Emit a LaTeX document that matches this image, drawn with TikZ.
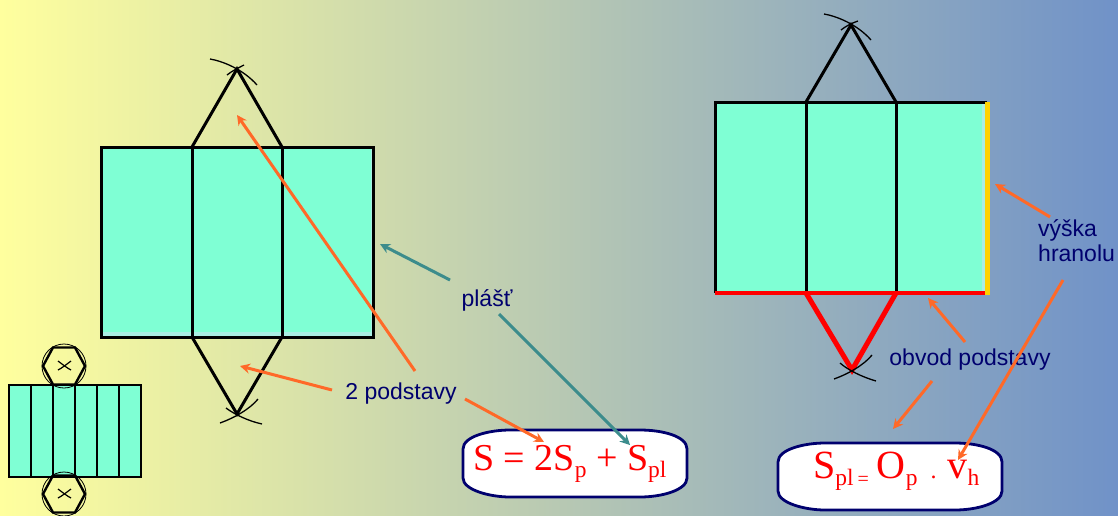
\documentclass[tikz,border=0pt]{standalone}
\usepackage{fontspec}
\setmainfont{Liberation Sans}
\newfontfamily\formfont{Liberation Serif}
\usetikzlibrary{arrows.meta}
\definecolor{navytxt}{RGB}{0,0,110}
\definecolor{aqua}{RGB}{127,255,212}
\definecolor{aqualt}{RGB}{170,238,228}
\definecolor{orarrow}{RGB}{255,105,40}
\definecolor{tealarrow}{RGB}{60,140,140}
\definecolor{bgA}{RGB}{255,255,158}
\definecolor{bgB}{RGB}{190,205,182}
\definecolor{bgC}{RGB}{112,146,200}
\definecolor{goldedge}{RGB}{255,210,0}
\tikzset{
 x=1pt,y=-1pt,
 fold/.style={draw=black,line width=3pt,line join=miter},
 thin fold/.style={draw=black,line width=2.2pt},
 arcline/.style={draw=black,line width=1.3pt},
 small arc/.style={draw=black,line width=.8pt},
 oarrow/.style={draw=orarrow,line width=3pt,-{Stealth[length=10pt,width=10pt]}},
 tarrow/.style={draw=tealarrow,line width=3pt,-{Stealth[length=10pt,width=10pt]}},
 lab/.style={text=navytxt,font=\fontsize{23}{25.5}\selectfont,inner sep=0pt},
 formula/.style={text=red,font=\formfont\fontsize{38}{42}\selectfont,inner sep=0pt,anchor=base west},
 formula big/.style={formula,font=\formfont\fontsize{40}{44}\selectfont},
 formbox/.style={draw=navytxt,fill=white,line width=2.8pt},
}
\newcommand{\subtxt}[1]{{\fontsize{23.5}{26}\selectfont\raisebox{-7pt}{#1}}}
\begin{document}
\begin{tikzpicture}
\useasboundingbox (0,0) rectangle (1118,515);
\shade[left color=bgA,middle color=bgB,right color=bgC,shading angle=90] (0,0) rectangle (1118,515);

% left net
\fill[aqualt] (101,147) rectangle (373,337);
\fill[aqua] (101,147) rectangle (371,332);
\draw[fold] (101,147) rectangle (373,337);
\draw[fold] (192,147) -- (192,337) (282,147) -- (282,337);
\draw[fold] (192,147) -- (237,69) -- (282,147);
\draw[fold] (192,337) -- (237,414) -- (282,337);
\draw[arcline] (210,59) .. controls (222,61) and (243,69) .. (257,85);
\draw[arcline] (227,75) .. controls (232,71) and (238,68) .. (244,65);
\draw[arcline] (220,423) .. controls (234,418) and (250,409) .. (258,399);
\draw[arcline] (226,408) .. controls (234,414) and (248,421) .. (262,424);

% right net
\fill[aqualt] (715,102) rectangle (987,293);
\fill[aqua] (715,102) rectangle (982,293);
\draw[fold] (715,293) -- (715,102) -- (987,102);
\draw[fold] (806,102) -- (806,293) (896,102) -- (896,293);
\draw[fold] (806,102) -- (851,25) -- (896,102);
\draw[arcline] (824,14) .. controls (836,16) and (857,24) .. (871,40);
\draw[arcline] (841,30) .. controls (846,26) and (852,23) .. (858,21);
\draw[draw=red,line width=4pt] (715,293) -- (987,293);
\draw[draw=red,line width=5pt,line join=miter] (806,293) -- (852,370) -- (896,293);
\draw[arcline] (834,379) .. controls (848,374) and (864,365) .. (872,355);
\draw[arcline] (840,363) .. controls (848,370) and (862,377) .. (876,381);
\draw[draw=goldedge,line width=5pt] (987,102) -- (987,295);

% small net
\fill[aqua] (9,385) rectangle (141,477);
\draw[thin fold] (9,385) rectangle (141,477);
\foreach \vx in {31,53,75,97,119} \draw[thin fold] (\vx,385) -- (\vx,477);
\foreach \hy in {366,494} {
 \draw[small arc] (64,\hy) circle (22);
 \draw[thin fold,line width=2.4pt] (43,\hy) -- (53,\hy-18.5) -- (75,\hy-18.5) -- (85,\hy) -- (75,\hy+18.5) -- (53,\hy+18.5) -- cycle;
 \draw[small arc,line width=1.2pt] (58,\hy-5) .. controls (62,\hy-2) and (67,\hy+2) .. (71,\hy+4);
 \draw[small arc,line width=1.2pt] (58,\hy+4) .. controls (62,\hy+2) and (67,\hy-2) .. (71,\hy-5);
}

% labels
\node[lab] (twobase) at (401,393.5) {2 podstavy};
\node[lab] (mantle) at (487,300) {plášť};
\node[lab] (perim) at (970,360) {obvod podstavy};
\node[lab,align=left,anchor=north west] (height) at (1038,219) {výška\\hranolu};

% formula boxes
\draw[formbox] (463,449) .. controls (463,436) and (490,430) .. (510,430) -- (640,430)
 .. controls (662,430) and (687,436) .. (687,449) -- (687,478)
 .. controls (687,490) and (662,497) .. (640,497) -- (510,497)
 .. controls (490,497) and (463,490) .. (463,478) -- cycle;
\draw[formbox] (778,462) .. controls (778,449) and (805,443) .. (825,443) -- (955,443)
 .. controls (977,443) and (1002,449) .. (1002,462) -- (1002,491)
 .. controls (1002,503) and (977,510) .. (955,510) -- (825,510)
 .. controls (805,510) and (778,503) .. (778,491) -- cycle;
\node[formula] (sform) at (473,470) {S = 2S\subtxt{p} + S\subtxt{pl}};
\node[formula big] (splform) at (813,478) {S\subtxt{pl\,{\fontsize{20}{24}\selectfont =}}\hspace{8pt}O\subtxt{p}\hspace{13pt}{\fontsize{24}{28}\selectfont .}\hspace{11pt}v\subtxt{h}};

% arrow ends
\coordinate (a1s) at (415,371); \coordinate (a1e) at (237,115);
\coordinate (a2s) at (332,390); \coordinate (a2e) at (240,366);
\coordinate (a3s) at (465,399); \coordinate (a3e) at (544,442);
\coordinate (t1s) at (450,280); \coordinate (t1e) at (380,244);
\coordinate (t2s) at (499,314); \coordinate (t2e) at (630,445);
\coordinate (b1s) at (1050,217); \coordinate (b1e) at (995,184);
\coordinate (b2s) at (1063,280); \coordinate (b2e) at (958,460);
\coordinate (b3s) at (965,342); \coordinate (b3e) at (928,298);
\coordinate (b4s) at (932,381); \coordinate (b4e) at (893,429);
\draw[oarrow] (a1s) -- (a1e);
\draw[oarrow] (a2s) -- (a2e);
\draw[oarrow] (a3s) -- (a3e);
\draw[tarrow] (t1s) -- (t1e);
\draw[tarrow] (t2s) -- (t2e);
\draw[oarrow] (b1s) -- (b1e);
\draw[oarrow] (b2s) -- (b2e);
\draw[oarrow] (b3s) -- (b3e);
\draw[oarrow] (b4s) -- (b4e);
\end{tikzpicture}
\end{document}
